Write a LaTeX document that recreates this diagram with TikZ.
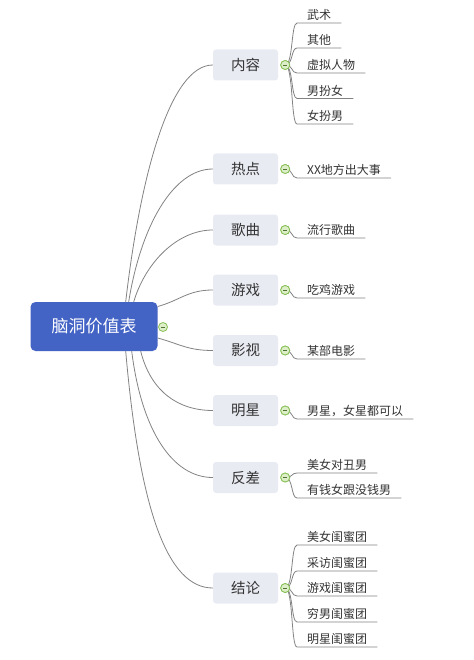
\documentclass[tikz,border=0pt]{standalone}
\usepackage{fontspec}
\setmainfont{Noto Sans CJK SC}
\usepackage{tikz}
\usepackage{xcolor}
\definecolor{rootblue}{RGB}{67,99,197}
\definecolor{boxgray}{RGB}{233,235,243}
\definecolor{linegray}{RGB}{130,130,130}
\definecolor{txtgray}{RGB}{51,51,51}
\definecolor{foldline}{RGB}{136,192,87}
\definecolor{foldfill}{RGB}{221,239,200}

\begin{document}
\begin{tikzpicture}[x=1pt, y=-1pt,
    root/.style={fill=rootblue, rounded corners=5pt, minimum width=127pt, minimum height=49pt,
        text=white, font=\fontsize{17}{20}\selectfont},
    branch/.style={fill=boxgray, rounded corners=3pt, minimum width=65pt, minimum height=31pt,
        text=txtgray, font=\fontsize{14.5}{17}\selectfont},
    leaf/.style={anchor=south west, inner xsep=10pt, inner ysep=2pt,
        text=txtgray, font=\fontsize{12}{14}\selectfont},
    fold/.style={circle, draw=foldline, fill=foldfill, line width=0.8pt, inner sep=0pt, minimum size=9pt,
        path picture={\draw[foldline!60!black, line width=0.6pt]
            ([xshift=-2.2pt]path picture bounding box.center) -- ([xshift=2.2pt]path picture bounding box.center);}},
    link/.style={draw=linegray, line width=0.8pt}]
    \useasboundingbox (0,0) rectangle (473,660);

    % Central topic
    \node[root] (root) at (94,326.5) {脑洞价值表};
    \node[fold] (rootfold) at (163,327) {};

    % Main topics
    \node[branch] (nr) at (245.5,65) {内容};
    \node[branch] (rd) at (245.5,169) {热点};
    \node[branch] (gq) at (245.5,230) {歌曲};
    \node[branch] (yx) at (245.5,290) {游戏};
    \node[branch] (ys) at (245.5,350.5) {影视};
    \node[branch] (mx) at (245.5,410.5) {明星};
    \node[branch] (fc) at (245.5,477.5) {反差};
    \node[branch] (jl) at (245.5,588) {结论};

    % Links from the central topic
    \draw[link] ([xshift=-32pt]root.north east) .. controls +(15,-130) and +(-42,0) .. (nr.west);
    \draw[link] ([xshift=-29pt]root.north east) .. controls +(12,-75) and +(-40,0) .. (rd.west);
    \draw[link] ([xshift=-24pt]root.north east) .. controls +(12,-40) and +(-35,0) .. (gq.west);
    \draw[link] ([yshift=20pt]root.east) .. controls +(22,-6) and +(-25,0) .. (yx.west);
    \draw[link] ([yshift=-11.5pt]root.east) .. controls +(22,6) and +(-25,0) .. (ys.west);
    \draw[link] ([xshift=-17pt]root.south east) .. controls +(10,40) and +(-35,0) .. (mx.west);
    \draw[link] ([xshift=-26pt]root.south east) .. controls +(10,80) and +(-40,0) .. (fc.west);
    \draw[link] ([xshift=-32pt]root.south east) .. controls +(14,160) and +(-45,0) .. (jl.west);

    % Fold markers
    \foreach \b in {nr,rd,gq,yx,ys,mx,fc,jl}
        \node[fold] (\b f) at ([xshift=7pt]\b.east) {};

    % Subtopics
    \node[leaf] (nr1) at (297,23) {武术};
    \node[leaf] (nr2) at (297,48) {其他};
    \node[leaf] (nr3) at (297,73) {虚拟人物};
    \node[leaf] (nr4) at (297,98.5) {男扮女};
    \node[leaf] (nr5) at (297,124) {女扮男};
    \node[leaf] (rd1) at (297,178) {XX地方出大事};
    \node[leaf] (gq1) at (297,238) {流行歌曲};
    \node[leaf] (yx1) at (297,298) {吃鸡游戏};
    \node[leaf] (ys1) at (297,359) {某部电影};
    \node[leaf] (mx1) at (297,419) {男星，女星都可以};
    \node[leaf] (fc1) at (297,473) {美女对丑男};
    \node[leaf] (fc2) at (297,498) {有钱女跟没钱男};
    \node[leaf] (jl1) at (297,545) {美女闺蜜团};
    \node[leaf] (jl2) at (297,571) {采访闺蜜团};
    \node[leaf] (jl3) at (297,596) {游戏闺蜜团};
    \node[leaf] (jl4) at (297,622) {穷男闺蜜团};
    \node[leaf] (jl5) at (297,647) {明星闺蜜团};

    % Links to subtopics, ending in the underline
    \foreach \b/\l in {nr/nr1,nr/nr2,nr/nr3,nr/nr4,nr/nr5,rd/rd1,gq/gq1,yx/yx1,ys/ys1,
                       mx/mx1,fc/fc1,fc/fc2,jl/jl1,jl/jl2,jl/jl3,jl/jl4,jl/jl5}
        \draw[link] (\b f.center) .. controls +(8,0) and +(-6,0) .. (\l.south west) -- (\l.south east);
    % redraw markers over the links
    \foreach \b in {nr,rd,gq,yx,ys,mx,fc,jl}
        \node[fold] at (\b f) {};
\end{tikzpicture}
\end{document}
